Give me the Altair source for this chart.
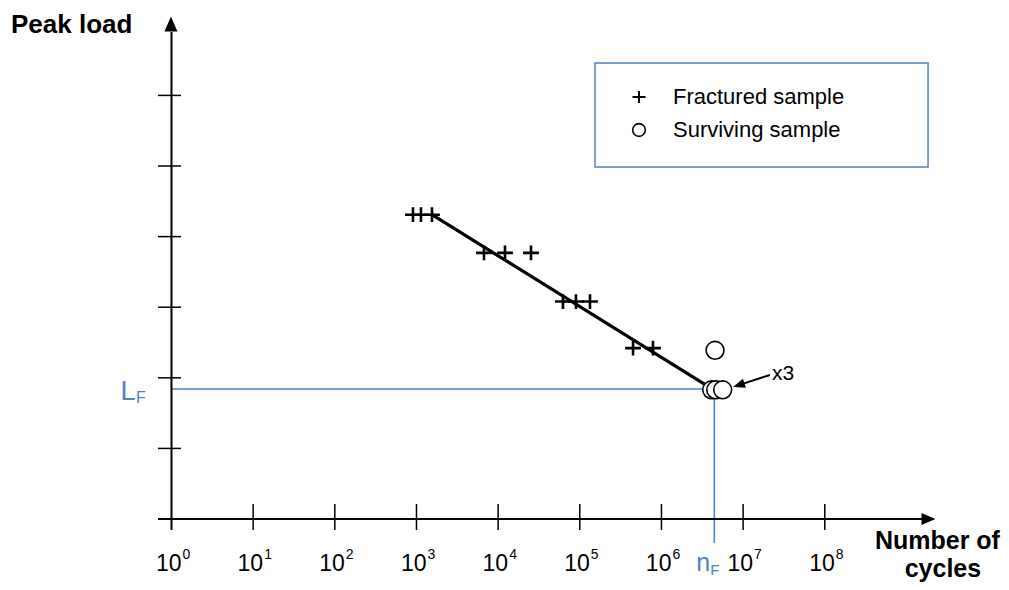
import altair as alt
import pandas as pd

# ---------------- data ----------------
fractured_cycles = [906, 1135, 1549, 6710, 12130, 25240, 62200, 89800, 133300, 449000, 787000]
fractured_load = [4.31, 4.31, 4.31, 3.77, 3.77, 3.77, 3.08, 3.08, 3.08, 2.42, 2.42]

surviving_cycles = [4.53e6, 4.12e6, 4.62e6, 5.62e6]
surviving_load = [2.39, 1.83, 1.83, 1.83]

fit_cycles = [1549, 3.72e6]
fit_load = [4.31, 1.88]

n_F = 4.44e6
L_F = 1.84

decades = [0, 1, 2, 3, 4, 5, 6, 7, 8]
load_ticks = [1, 2, 3, 4, 5, 6]

series_names = ["Fractured sample", "Surviving sample"]

# annotation anchors (data units)
x3_arrow_cycles = [2.13e7, 8.83e6]
x3_arrow_load = [2.04, 1.897]
x3_text_cycles = 2.26e7
x3_text_load = 2.054

legend_box_cycles = [1.535e5, 1.84e9]
legend_box_load = [4.986, 6.459]
legend_symbol_cycles = 5.31e5
legend_text_cycles = 1.384e6
legend_row_load = [5.977, 5.510]

# ---------------- styling ----------------
BLUE = "#4F81BD"
FONT = "Liberation Sans"
W, H = 993, 574

XS = alt.Scale(type="log", domain=[10 ** -2.002, 10 ** 10.158], nice=False)
YS = alt.Scale(domain=[-0.892, 7.238], nice=False, zero=False)


def X(f):
    return alt.X(f, type="quantitative", scale=XS, axis=None)


def Y(f):
    return alt.Y(f, type="quantitative", scale=YS, axis=None)


def XD(v):
    return alt.XDatum(v, scale=XS, axis=None)


def YD(v):
    return alt.YDatum(v, scale=YS, axis=None)


PLUS = "M-1,0H1M0,-0.93V0.93"
shape_scale = alt.Scale(domain=series_names, range=[PLUS, "circle"])

# ---------------- tables ----------------
frac_df = pd.DataFrame({"cycles": fractured_cycles, "load": fractured_load,
                        "sample": series_names[0]})
surv_df = pd.DataFrame({"cycles": surviving_cycles, "load": surviving_load,
                        "sample": series_names[1]})
fit_df = pd.DataFrame({"cycles": fit_cycles, "load": fit_load})
dec_df = pd.DataFrame({"cycles": [10.0 ** d for d in decades],
                       "base": "10", "exp": [str(d) for d in decades]})
xtick_df = dec_df[dec_df["cycles"] > 1]
ytick_df = pd.DataFrame({"load": load_ticks})
legend_df = pd.DataFrame({"sample": series_names, "load": legend_row_load,
                          "sym": legend_symbol_cycles, "lab": legend_text_cycles})

# ---------------- layers ----------------
guide_h = alt.Chart().mark_rule(color=BLUE, strokeWidth=1.5).encode(
    x=XD(1), x2=alt.X2Datum(n_F), y=YD(L_F))
guide_v = alt.Chart().mark_rule(color=BLUE, strokeWidth=1.5).encode(
    x=XD(n_F), y=YD(L_F), y2=alt.Y2Datum(-0.34))

legend_box = alt.Chart().mark_rect(fill="white", stroke=BLUE, strokeWidth=1.5).encode(
    x=XD(legend_box_cycles[0]), x2=alt.X2Datum(legend_box_cycles[1]),
    y=YD(legend_box_load[0]), y2=alt.Y2Datum(legend_box_load[1]))
legend_sym_plus = alt.Chart(legend_df.iloc[:1]).mark_point(
    fill="white", stroke="black", strokeWidth=2.0, size=170, opacity=1).encode(
    x=X("sym"), y=Y("load"), shape=alt.Shape("sample:N", scale=shape_scale, legend=None))
legend_sym_circle = alt.Chart(legend_df.iloc[1:]).mark_point(
    fill="white", stroke="black", strokeWidth=1.6, size=160, opacity=1, filled=True).encode(
    x=X("sym"), y=Y("load"), shape=alt.Shape("sample:N", scale=shape_scale, legend=None))
legend_text = alt.Chart(legend_df).mark_text(
    font=FONT, fontSize=22, align="left", baseline="middle", color="black").encode(
    x=X("lab"), y=Y("load"), text="sample:N")

x_axis = alt.Chart().mark_rule(color="black", strokeWidth=2).encode(
    x=XD(0.684), x2=alt.X2Datum(1.55e9), y=YD(0))
y_axis = alt.Chart().mark_rule(color="black", strokeWidth=2).encode(
    x=XD(1), y=YD(-0.156), y2=alt.Y2Datum(6.898))

x_head = alt.Chart().mark_point(shape="M1,0L-1,-0.87L-1,0.87Z", size=196, filled=True,
                                color="black", opacity=1).encode(x=XD(1.862e9), y=YD(0))
y_head = alt.Chart().mark_point(shape="M0,-1L0.87,1L-0.87,1Z", size=225, filled=True,
                                color="black", opacity=1).encode(x=XD(0.985), y=YD(7.01))

x_ticks = alt.Chart(xtick_df).mark_tick(orient="vertical", size=26, thickness=1.5,
                                        color="black", yOffset=-2, opacity=1).encode(
    x=X("cycles"), y=YD(0))
y_ticks = alt.Chart(ytick_df).mark_tick(orient="horizontal", size=23, thickness=1.5,
                                        color="black", xOffset=-2, opacity=1).encode(
    x=XD(1), y=Y("load"))

x_base = alt.Chart(dec_df).mark_text(font=FONT, fontSize=23, align="right",
                                     baseline="alphabetic", dx=10, color="black").encode(
    x=X("cycles"), y=YD(-0.737), text="base:N")
x_exp = alt.Chart(dec_df).mark_text(font=FONT, fontSize=14, align="left",
                                    baseline="alphabetic", dx=11, dy=-12,
                                    color="black").encode(
    x=X("cycles"), y=YD(-0.737), text="exp:N")

fit_line = alt.Chart(fit_df).mark_line(color="black", strokeWidth=3.2).encode(
    x=X("cycles"), y=Y("load"))

crosses = alt.Chart(frac_df).mark_point(fill="white", stroke="black", strokeWidth=2.6,
                                        size=250, opacity=1).encode(
    x=X("cycles"), y=Y("load"),
    shape=alt.Shape("sample:N", scale=shape_scale, legend=None))
circles = alt.Chart(surv_df).mark_point(fill="white", stroke="black", strokeWidth=1.6,
                                        size=320, opacity=1, filled=True).encode(
    x=X("cycles"), y=Y("load"),
    shape=alt.Shape("sample:N", scale=shape_scale, legend=None))

arrow_df = pd.DataFrame({"c": [x3_arrow_cycles[0]], "c2": [x3_arrow_cycles[1]],
                         "l": [x3_arrow_load[0]], "l2": [x3_arrow_load[1]]})
x3_line = alt.Chart(arrow_df).mark_rule(color="black", strokeWidth=2).encode(
    x=X("c"), x2="c2", y=Y("l"), y2="l2")
x3_head = alt.Chart().mark_point(shape="M0,-1L0.8,1L-0.8,1Z", size=144, filled=True,
                                 color="black", angle=252, opacity=1).encode(
    x=XD(x3_arrow_cycles[1]), y=YD(x3_arrow_load[1]))
x3_text = alt.Chart().mark_text(text="x3", font=FONT, fontSize=21, align="left",
                                baseline="middle", color="black").encode(
    x=XD(x3_text_cycles), y=YD(x3_text_load))

lf_L = alt.Chart().mark_text(text="L", font=FONT, fontSize=27, align="left",
                             baseline="alphabetic", dx=-51, dy=11, color=BLUE).encode(
    x=XD(1), y=YD(L_F))
lf_F = alt.Chart().mark_text(text="F", font=FONT, fontSize=16, align="left",
                             baseline="alphabetic", dx=-35.5, dy=14, color=BLUE).encode(
    x=XD(1), y=YD(L_F))
nf_n = alt.Chart().mark_text(text="n", font=FONT, fontSize=25, align="left",
                             baseline="alphabetic", dx=-18, color=BLUE).encode(
    x=XD(n_F), y=YD(-0.737))
nf_F = alt.Chart().mark_text(text="F", font=FONT, fontSize=15, align="left",
                             baseline="alphabetic", dx=-4, dy=4, color=BLUE).encode(
    x=XD(n_F), y=YD(-0.737))

y_title = alt.Chart().mark_text(text="Peak load", font=FONT, fontSize=26, fontWeight="bold",
                                align="left", baseline="alphabetic", color="black").encode(
    x=XD(10 ** -1.965), y=YD(6.884))
x_title1 = alt.Chart().mark_text(text="Number of", font=FONT, fontSize=25,
                                 fontWeight="bold", align="right", baseline="alphabetic",
                                 color="black").encode(
    x=XD(10 ** 10.145), y=YD(-0.425))
x_title2 = alt.Chart().mark_text(text="cycles", font=FONT, fontSize=25,
                                 fontWeight="bold", align="center", baseline="alphabetic",
                                 color="black").encode(
    x=XD(10 ** 9.447), y=YD(-0.822))

chart = alt.layer(
    guide_h, guide_v, legend_box, legend_sym_plus, legend_sym_circle, legend_text,
    x_axis, y_axis, x_head, y_head, x_ticks, y_ticks,
    x_base, x_exp, fit_line, crosses, circles, x3_line, x3_head, x3_text,
    lf_L, lf_F, nf_n, nf_F, y_title, x_title1, x_title2,
).properties(
    width=W, height=H, autosize=alt.AutoSizeParams(type="none"), padding=0,
    background="white",
).configure_view(strokeWidth=0)

chart.save("out.html", embed_options={"renderer": "svg", "actions": False})
